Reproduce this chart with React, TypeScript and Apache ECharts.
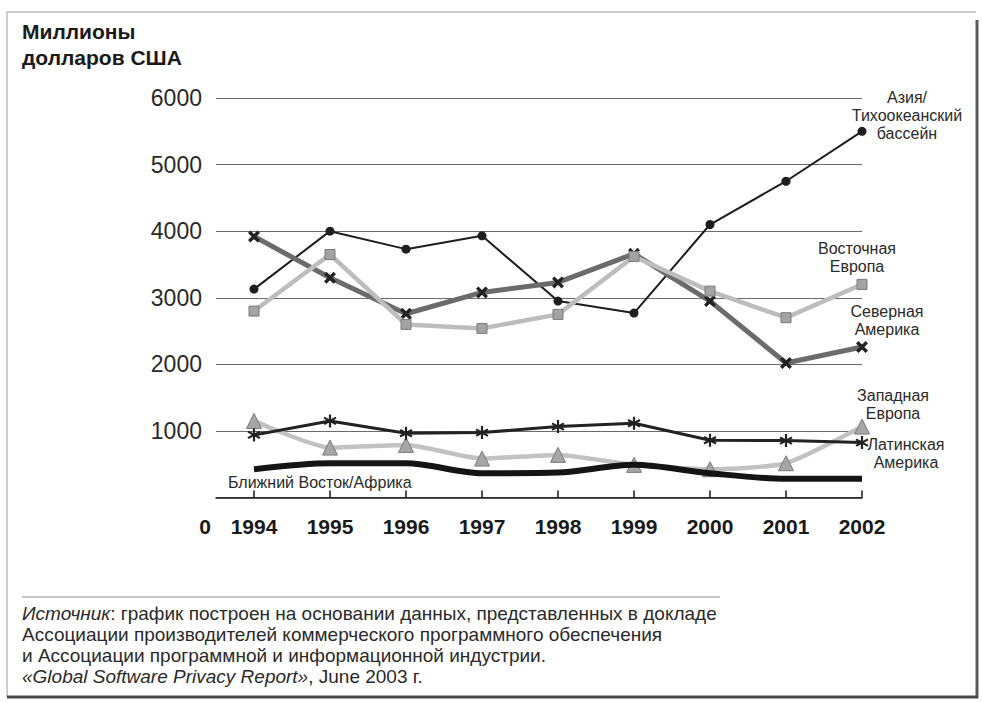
import React, { useEffect, useRef } from "react";
import * as echarts from "echarts";

const years = [1994, 1995, 1996, 1997, 1998, 1999, 2000, 2001, 2002];
const yTicks = [0, 1000, 2000, 3000, 4000, 5000, 6000];
const asiaPacific = [3130, 4000, 3730, 3930, 2950, 2770, 4100, 4750, 5500];
const easternEurope = [2800, 3650, 2600, 2540, 2750, 3620, 3100, 2700, 3200];
const northAmerica = [3920, 3300, 2760, 3080, 3230, 3660, 2950, 2020, 2260];
const latinAmerica = [940, 1150, 965, 975, 1065, 1115, 860, 855, 825];
const westernEurope = [1150, 750, 790, 585, 640, 490, 425, 515, 1065];
const middleEastAfrica = [425, 515, 515, 365, 375, 490, 365, 280, 280];

const titleText = "Миллионы\nдолларов США";
const sourceLines = [
  "{i|Источник}: график построен на основании данных, представленных в докладе",
  "Ассоциации производителей коммерческого программного обеспечения",
  "и Ассоциации программной и информационной индустрии.",
  "{i|«Global Software Privacy Report»}, June 2003 г.",
];

const X_PATH =
  "path://M2,0 L5,3 L8,0 L10,2 L7,5 L10,8 L8,10 L5,7 L2,10 L0,8 L3,5 L0,2 Z";
const STAR_PATH =
  "path://M4.2,0 L5.8,0 L5.8,10 L4.2,10 Z M0.27,3.19 L1.07,1.81 L9.73,6.81 L8.93,8.19 Z M1.07,8.19 L0.27,6.81 L8.93,1.81 L9.73,3.19 Z";

const pairs = (vals: number[]) => years.map((y, i) => [y, vals[i]]);

export default function App() {
  const ref = useRef<HTMLDivElement>(null);
  useEffect(() => {
    document.body.style.margin = "0";
    const chart = echarts.init(ref.current!, null, { renderer: "svg" });
    const font = "Liberation Sans, Arial, sans-serif";
    const labelStyle = { fontFamily: font, fontSize: 16, fill: "#2a2a2a", align: "center" as const, lineHeight: 18 };
    chart.setOption({
      animation: false,
      backgroundColor: "#ffffff",
      grid: { left: 216, right: 120, top: 98, bottom: 205.5 },
      xAxis: {
        type: "value",
        min: 1993.5,
        max: 2002,
        splitLine: { show: false },
        axisLine: { show: true, lineStyle: { color: "#1a1a1a", width: 1.5 } },
        axisTick: { show: true, inside: true, length: 7, customValues: years, lineStyle: { color: "#1a1a1a", width: 1.5 } },
        axisLabel: {
          customValues: years,
          margin: 18,
          fontFamily: font,
          fontWeight: "bold",
          fontSize: 21,
          color: "#1a1a1a",
          formatter: (v: number) => String(v),
        },
      },
      yAxis: {
        type: "value",
        min: yTicks[0],
        max: yTicks[yTicks.length - 1],
        interval: 1000,
        axisLine: { show: false },
        axisTick: { show: false },
        splitLine: { show: true, lineStyle: { color: "#6a6a6a", width: 1 } },
        axisLabel: {
          margin: 14,
          fontFamily: font,
          fontSize: 23,
          color: "#2a2a2a",
          formatter: (v: number) => (v === 0 ? "" : String(v)),
        },
      },
      series: [
        {
          name: "Азия/Тихоокеанский бассейн",
          type: "line",
          data: pairs(asiaPacific),
          symbol: "circle",
          symbolSize: 9,
          lineStyle: { color: "#1e1e1e", width: 2 },
          itemStyle: { color: "#1e1e1e" },
          z: 3,
        },
        {
          name: "Северная Америка",
          type: "line",
          data: pairs(northAmerica),
          symbol: X_PATH,
          symbolSize: 12,
          lineStyle: { color: "#6b6b6b", width: 5 },
          itemStyle: { color: "#222222" },
          z: 4,
        },
        {
          name: "Восточная Европа",
          type: "line",
          data: pairs(easternEurope),
          symbol: "rect",
          symbolSize: 10,
          lineStyle: { color: "#bdbdbd", width: 4.5 },
          itemStyle: { color: "#a3a3a3", borderColor: "#7a7a7a", borderWidth: 1 },
          z: 5,
        },
        {
          name: "Западная Европа",
          type: "line",
          data: pairs(westernEurope),
          symbol: "triangle",
          symbolSize: 15,
          smooth: 0.2,
          lineStyle: { color: "#c2c2c2", width: 4.5 },
          itemStyle: { color: "#a6a6a6", borderColor: "#7a7a7a", borderWidth: 1 },
          z: 5,
        },
        {
          name: "Латинская Америка",
          type: "line",
          data: pairs(latinAmerica),
          symbol: STAR_PATH,
          symbolSize: 13,
          lineStyle: { color: "#222222", width: 3 },
          itemStyle: { color: "#222222" },
          z: 6,
        },
        {
          name: "Ближний Восток/Африка",
          type: "line",
          data: pairs(middleEastAfrica),
          symbol: "none",
          smooth: 0.3,
          lineStyle: { color: "#141414", width: 6 },
          z: 6,
        },
      ],
      graphic: [
        { type: "line", shape: { x1: 7, y1: 12, x2: 976, y2: 12 }, style: { stroke: "#9a9a9a", lineWidth: 1 } },
        { type: "line", shape: { x1: 7, y1: 12, x2: 7, y2: 697 }, style: { stroke: "#9a9a9a", lineWidth: 1 } },
        { type: "line", shape: { x1: 977, y1: 20, x2: 977, y2: 698 }, style: { stroke: "#5a5a5a", lineWidth: 3 } },
        { type: "line", shape: { x1: 7, y1: 697, x2: 978, y2: 697 }, style: { stroke: "#4a4a4a", lineWidth: 3 } },
        {
          type: "text",
          x: 22,
          y: 18,
          style: { text: titleText, fontFamily: font, fontWeight: "bold", fontSize: 21, lineHeight: 26, fill: "#1a1a1a" },
        },
        {
          type: "text",
          x: 205,
          y: 526,
          style: { text: "0", fontFamily: font, fontWeight: "bold", fontSize: 21, fill: "#1a1a1a", align: "center", verticalAlign: "middle" },
        },
        { type: "text", x: 907, y: 88, style: { ...labelStyle, text: "Азия/\nТихоокеанский\nбассейн" } },
        { type: "text", x: 857, y: 239, style: { ...labelStyle, text: "Восточная\nЕвропа" } },
        { type: "text", x: 887, y: 302, style: { ...labelStyle, text: "Северная\nАмерика" } },
        { type: "text", x: 893, y: 386, style: { ...labelStyle, text: "Западная\nЕвропа" } },
        { type: "text", x: 906, y: 435, style: { ...labelStyle, text: "Латинская\nАмерика" } },
        { type: "text", x: 228, y: 473, style: { ...labelStyle, align: "left", text: "Ближний Восток/Африка" } },
        { type: "line", shape: { x1: 22, y1: 597, x2: 720, y2: 597 }, style: { stroke: "#8a8a8a", lineWidth: 1 } },
        {
          type: "text",
          x: 22,
          y: 603,
          style: {
            text: sourceLines.join("\n"),
            fontFamily: font,
            fontSize: 19,
            lineHeight: 21,
            fill: "#2a2a2a",
            rich: {
              i: { fontStyle: "italic", fontFamily: font, fontSize: 19, lineHeight: 21, fill: "#2a2a2a" },
            },
          },
        },
      ],
    });
    return () => chart.dispose();
  }, []);
  return <div ref={ref} style={{ width: 982, height: 703 }} />;
}
